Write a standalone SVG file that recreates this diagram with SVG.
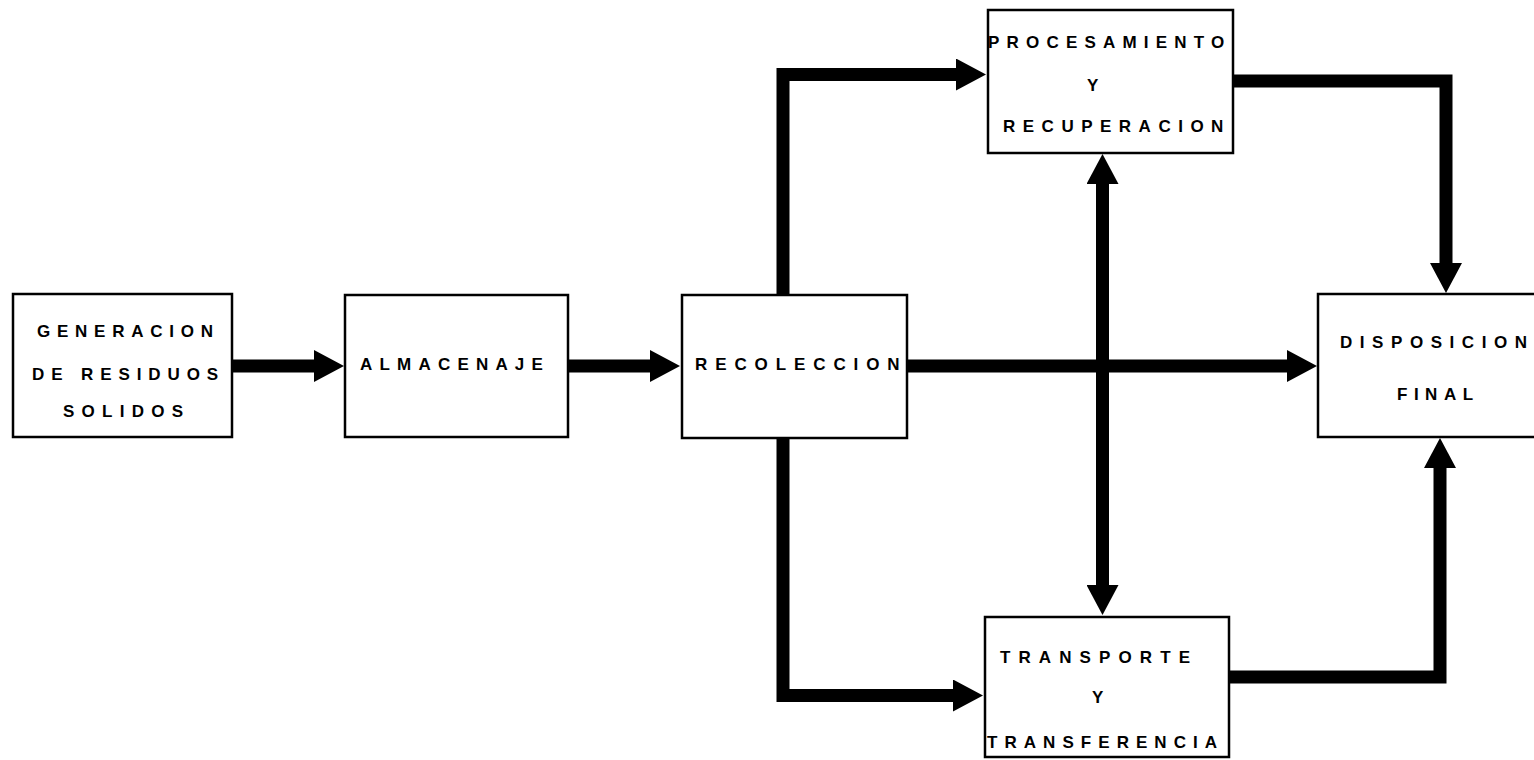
<svg xmlns="http://www.w3.org/2000/svg" width="1534" height="760" viewBox="0 0 1534 760">
<style>
.box{fill:#fff;stroke:#000;stroke-width:2.5}
.t{font-family:"Liberation Sans",Arial,sans-serif;font-weight:bold;font-size:17px;fill:#000}
.c{fill:none;stroke:#000;stroke-width:13;stroke-linejoin:miter}
</style>
<defs>
<marker id="ah" viewBox="0 0 30 32" refX="0" refY="16" markerWidth="30" markerHeight="32" markerUnits="userSpaceOnUse" orient="auto-start-reverse">
<path d="M0,0 L30,16 L0,32 Z" fill="#000"/>
</marker>
</defs>
<rect width="1534" height="760" fill="#fff"/>
<g id="connectors">
<path class="c" d="M232,366 H314" marker-end="url(#ah)"/>
<path class="c" d="M568,366 H650" marker-end="url(#ah)"/>
<path class="c" d="M907,366 H1287" marker-end="url(#ah)"/>
<path class="c" d="M783,295 V74.5 H956" marker-end="url(#ah)"/>
<path class="c" d="M783,438 V695.5 H953" marker-end="url(#ah)"/>
<path class="c" d="M1102.5,184 V585" marker-start="url(#ah)" marker-end="url(#ah)"/>
<path class="c" d="M1233,81 H1446 V263" marker-end="url(#ah)"/>
<path class="c" d="M1229,677 H1440 V468" marker-end="url(#ah)"/>
</g>
<g id="generacion">
<rect class="box" x="13" y="294" width="219" height="143"/>
<text class="t" x="37" y="337" letter-spacing="6.75">GENERACION</text>
<text class="t" x="32" y="380" letter-spacing="6.9">DE RESIDUOS</text>
<text class="t" x="63" y="417" letter-spacing="7.25">SOLIDOS</text>
</g>
<g id="almacenaje">
<rect class="box" x="345" y="295" width="223" height="142"/>
<text class="t" x="360" y="370" letter-spacing="7.2">ALMACENAJE</text>
</g>
<g id="recoleccion">
<rect class="box" x="682" y="295" width="225" height="143"/>
<text class="t" x="695" y="370" letter-spacing="7.9">RECOLECCION</text>
</g>
<g id="procesamiento">
<rect class="box" x="988" y="10" width="245" height="143"/>
<text class="t" x="988" y="48" letter-spacing="7.2">PROCESAMIENTO</text>
<text class="t" x="1087" y="91">Y</text>
<text class="t" x="1003" y="132" letter-spacing="7.5">RECUPERACION</text>
</g>
<g id="transporte">
<rect class="box" x="985" y="617" width="244" height="140"/>
<text class="t" x="1000" y="663" letter-spacing="8.1">TRANSPORTE</text>
<text class="t" x="1092" y="703">Y</text>
<text class="t" x="987" y="748" letter-spacing="7.05">TRANSFERENCIA</text>
</g>
<g id="disposicion">
<rect class="box" x="1318" y="294" width="230" height="143"/>
<text class="t" x="1340" y="348" letter-spacing="7.55">DISPOSICION</text>
<text class="t" x="1397" y="400" letter-spacing="6.5">FINAL</text>
</g>
</svg>
